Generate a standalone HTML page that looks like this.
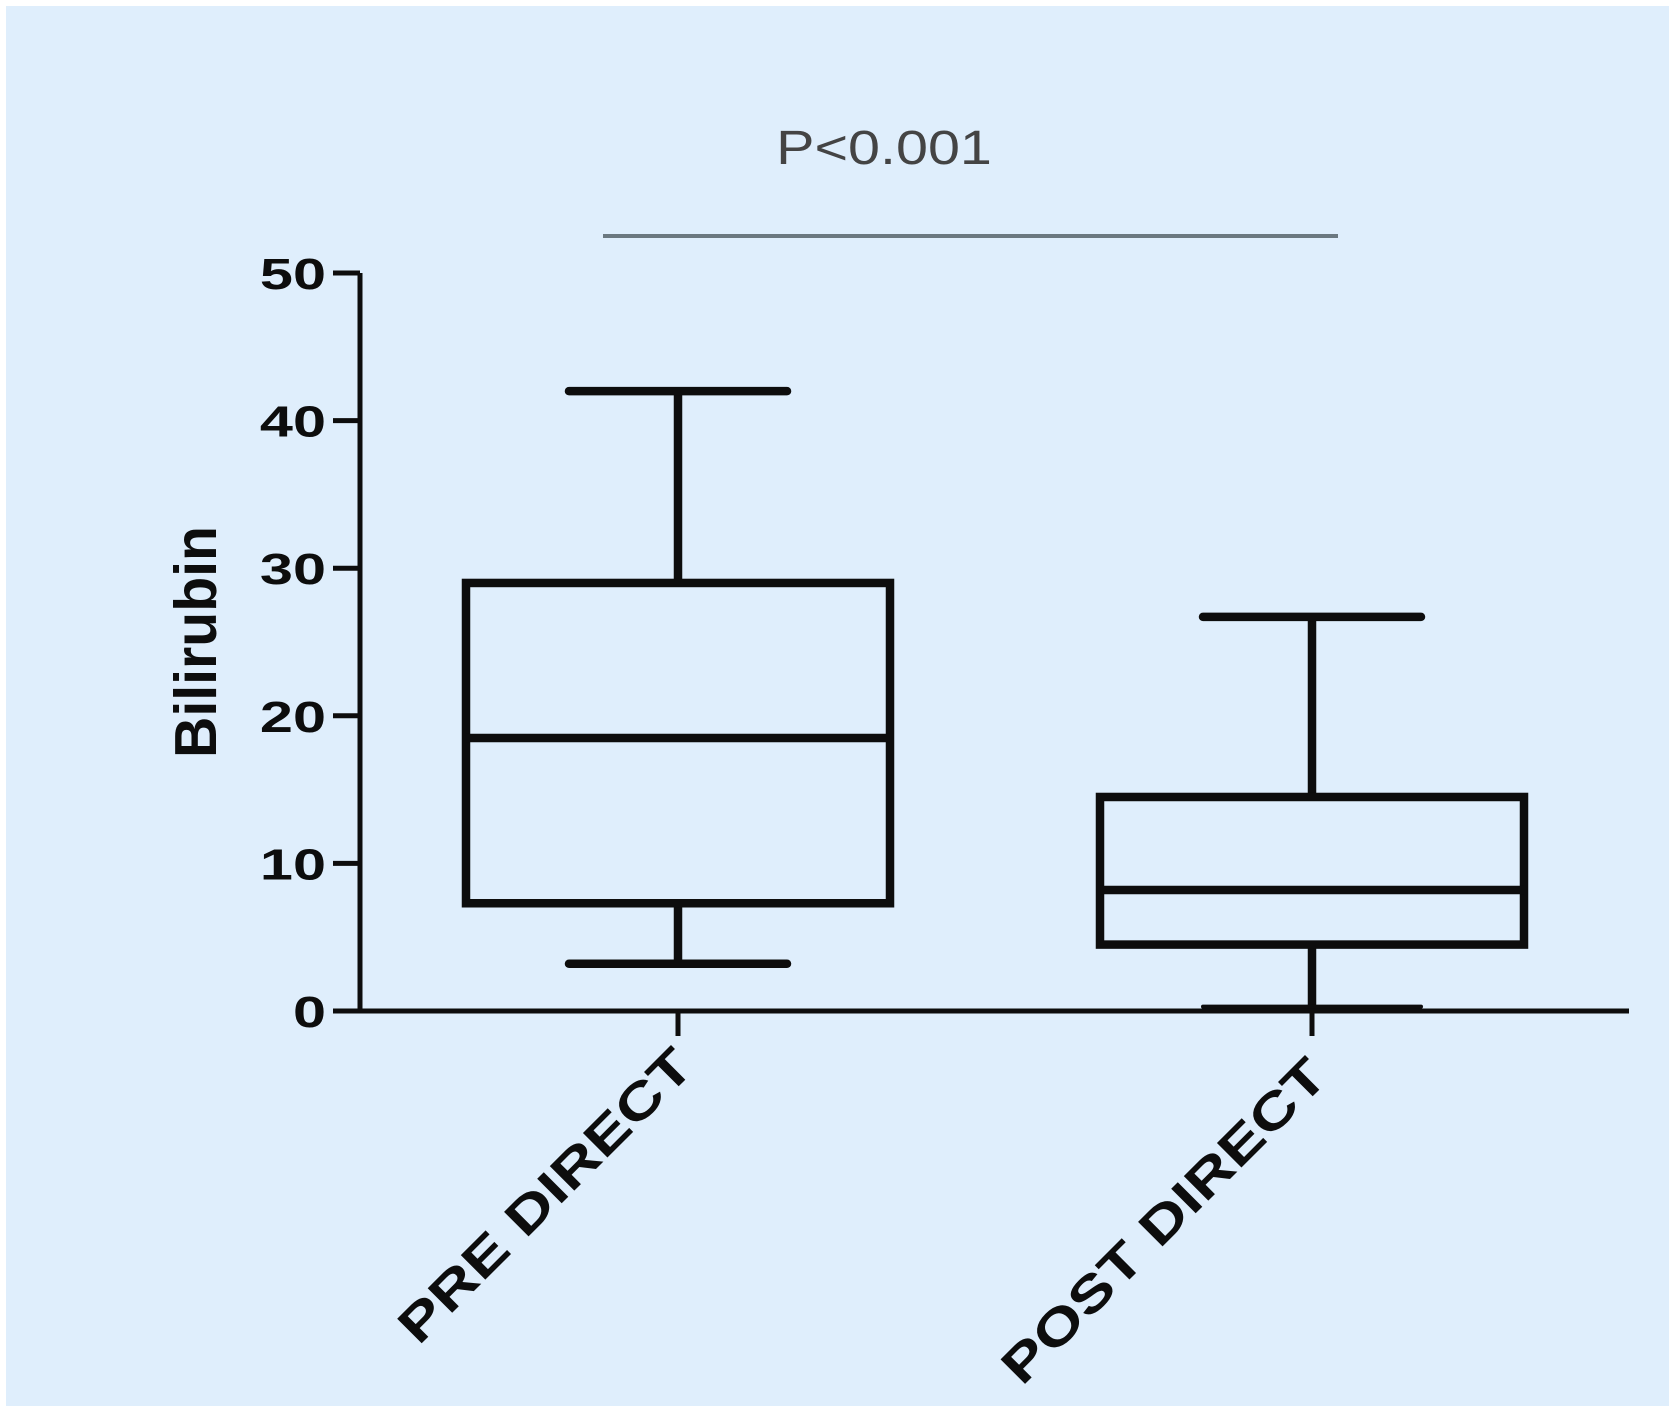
<!DOCTYPE html>
<html><head><meta charset="utf-8"><style>
html,body{margin:0;padding:0;background:#fff;}
svg{display:block;}
text{font-family:"Liberation Sans",Arial,sans-serif;}
</style></head><body>
<svg id="chart" width="1675" height="1412">
<rect x="6" y="6" width="1663" height="1400" fill="#dfeefc"/>
<g id="g"></g>
</svg>
<script>
const categories = ["PRE DIRECT", "POST DIRECT"];
const whiskerMin = [3.2, 0.3];
const q1 = [7.3, 4.5];
const median = [18.5, 8.2];
const q3 = [29, 14.5];
const whiskerMax = [42, 26.7];
const yTicks = [0, 10, 20, 30, 40, 50];
const yTickLabels = ["0", "10", "20", "30", "40", "50"];
const pLabel = "P<0.001";

const NS = "http://www.w3.org/2000/svg";
const g = document.getElementById('g');
const x0 = 360, x1 = 1629, yZero = 1011, yTop = 273;
const y = v => yZero - (v / 50) * (yZero - yTop);
const xc = i => [678, 1312][i];
const boxHalf = 212, capHalf = 109;
function el(tag, attrs, txt){
  const e = document.createElementNS(NS, tag);
  for (const k in attrs) e.setAttribute(k, attrs[k]);
  if (txt !== undefined) e.textContent = txt;
  g.appendChild(e);
  return e;
}
const ink = "#0d0d0d", lw = 8.5;
let a = el('line', {x1: x0, y1: yTop, x2: x0, y2: yZero, stroke: ink, 'stroke-width': 5});


a = el('line', {x1: x0 - 2, y1: yZero, x2: x1, y2: yZero, stroke: ink, 'stroke-width': 5});


yTicks.forEach((v, i) => {
  const t = el('line', {x1: x0 - 27, y1: y(v), x2: x0, y2: y(v), stroke: ink, 'stroke-width': 5});
  
  
  const l = el('text', {x: 0, y: 0, transform: `translate(${x0 - 34},${y(v) + 16}) scale(1.35,1)`, 'text-anchor': 'end', 'font-size': 44, 'font-weight': 'bold', fill: ink}, yTickLabels[i]);
  
  
});
let yt = el('text', {x: 0, y: 0, transform: 'translate(216,642) rotate(-90) scale(1.1,1.15)', 'text-anchor': 'middle', 'font-size': 52, 'font-weight': 'bold', fill: ink}, 'Bilirubin');


categories.forEach((c, i) => {
  const cx = xc(i);
  const t = el('line', {x1: cx, y1: yZero, x2: cx, y2: yZero + 25, stroke: ink, 'stroke-width': 5});
  
  
  const lab = el('text', {x: 0, y: 0, transform: `translate(${cx + 18},${yZero + 58 + i * 10}) rotate(-45) scale(1.35,1.05)`, 'text-anchor': 'end', 'font-size': 48, 'font-weight': 'bold', fill: ink}, c);
  
  
  const w1 = el('line', {x1: cx, y1: y(whiskerMax[i]), x2: cx, y2: y(q3[i]), stroke: ink, 'stroke-width': lw});
  
  
  const w2 = el('line', {x1: cx, y1: y(q1[i]), x2: cx, y2: y(whiskerMin[i]), stroke: ink, 'stroke-width': lw});
  
  
  const c1 = el('line', {x1: cx - capHalf, y1: y(whiskerMax[i]), x2: cx + capHalf, y2: y(whiskerMax[i]), stroke: ink, 'stroke-width': lw, 'stroke-linecap': 'round'});
  
  
  const c2 = el('line', {x1: cx - capHalf, y1: y(whiskerMin[i]), x2: cx + capHalf, y2: y(whiskerMin[i]), stroke: ink, 'stroke-width': i === 1 ? 4 : lw, 'stroke-linecap': 'round'});
  
  
  const b = el('rect', {x: cx - boxHalf, y: y(q3[i]), width: boxHalf * 2, height: y(q1[i]) - y(q3[i]), fill: 'none', stroke: ink, 'stroke-width': lw});
  
  
  const m = el('line', {x1: cx - boxHalf, y1: y(median[i]), x2: cx + boxHalf, y2: y(median[i]), stroke: ink, 'stroke-width': lw});
  
  
});
const sig = el('line', {x1: 603, y1: 236, x2: 1338, y2: 236, stroke: '#6b7880', 'stroke-width': 4});


const pt = el('text', {x: 0, y: 0, transform: 'translate(884,164) scale(1.25,1.05)', 'text-anchor': 'middle', 'font-size': 46, fill: '#444'}, pLabel);


</script>
</body></html>
